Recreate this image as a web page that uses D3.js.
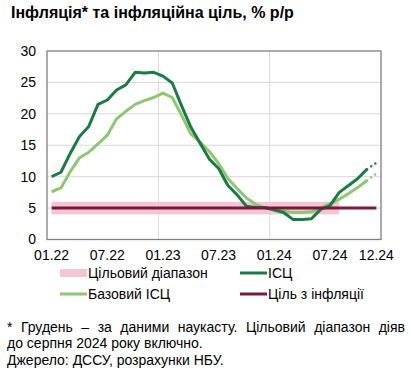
<!DOCTYPE html>
<html><head><meta charset="utf-8">
<script src="https://cdn.jsdelivr.net/npm/d3@7"></script>
<style>
body{margin:0;background:#fff;}
svg{display:block;font-family:"Liberation Sans",Arial,sans-serif;}
</style></head>
<body>
<svg id="c" width="411" height="372"></svg>
<script>
const months = ["01.22","02.22","03.22","04.22","05.22","06.22","07.22","08.22","09.22","10.22","11.22","12.22",
"01.23","02.23","03.23","04.23","05.23","06.23","07.23","08.23","09.23","10.23","11.23","12.23",
"01.24","02.24","03.24","04.24","05.24","06.24","07.24","08.24","09.24","10.24","11.24","12.24"];
const tickLabels = ["01.22","07.22","01.23","07.23","01.24","07.24","12.24"];
const cpi = [10.0,10.7,13.7,16.4,18.0,21.5,22.2,23.8,24.6,26.6,26.5,26.6,
26.0,24.9,21.3,17.9,15.3,12.8,11.3,8.6,7.1,5.3,5.1,5.1,
4.7,4.3,3.2,3.2,3.3,4.8,5.4,7.5,8.6,9.7,11.2,12.2];
const core = [7.6,8.2,10.8,13.0,13.9,15.2,16.6,19.2,20.4,21.5,22.1,22.6,
23.3,22.6,19.8,16.8,15.5,14.0,12.1,9.7,8.1,6.6,5.6,5.0,
4.8,4.5,4.3,4.3,4.4,5.0,5.7,6.4,7.3,8.3,9.4,10.5];
const targetValue = 5;
const bandLow = 4, bandHigh = 6;
const bandEnd = "08.24";
const yTicks = [0,5,10,15,20,25,30];
const yearStarts = ["01.23","01.24"];
const title = "Інфляція* та інфляційна ціль, % р/р";
const legendItems = [
  {label:"Цільовий діапазон", type:"band", color:"#f2c6d2"},
  {label:"ІСЦ", type:"line", color:"#1b7b46"},
  {label:"Базовий ІСЦ", type:"line", color:"#8fc672"},
  {label:"Ціль з інфляції", type:"line", color:"#7a1840"}
];
const notes = ["* Грудень – за даними наукасту. Цільовий діапазон діяв",
"до серпня 2024 року включно.",
"Джерело: ДССУ, розрахунки НБУ."];

const svg = d3.select("#c");
const L=47, R=381, T=51, B=239.5;
const x = d3.scaleBand().domain(months).range([L,R]);
const xc = m => x(m)+x.bandwidth()/2;
const y = d3.scaleLinear().domain([0,30]).range([B,T]);

svg.append("text").attr("x",11).attr("y",18).attr("font-size",16).attr("font-weight","bold")
  .attr("fill","#000").text(title);

// gridlines
svg.append("g").selectAll("line").data(yTicks.filter(v=>v>0&&v<30)).join("line")
  .attr("x1",L).attr("x2",R).attr("y1",d=>y(d)).attr("y2",d=>y(d))
  .attr("stroke","#d9d9d9").attr("stroke-width",1);
svg.append("g").selectAll("line").data(yearStarts).join("line")
  .attr("x1",d=>x(d)).attr("x2",d=>x(d)).attr("y1",T).attr("y2",B)
  .attr("stroke","#d9d9d9").attr("stroke-width",1);

// target band
const bi = months.indexOf(bandEnd);
svg.append("rect").attr("x",xc(months[0])).attr("width",xc(bandEnd)-xc(months[0]))
  .attr("y",y(bandHigh)).attr("height",y(bandLow)-y(bandHigh)).attr("fill","#f2c6d2");

// lines
const line = d3.line().x((d,i)=>xc(months[i])).y(d=>y(d));
function drawSeries(vals,color){
  const n = vals.length;
  const solid = vals.map((v,i)=> i<n-1 ? v : null);
  svg.append("path").attr("d",d3.line().defined(d=>d!=null).x((d,i)=>xc(months[i])).y(d=>y(d))(solid))
    .attr("fill","none").attr("stroke",color).attr("stroke-width",3).attr("stroke-linejoin","round");
  const seg = [[months[n-2],vals[n-2]],[months[n-1],vals[n-1]]];
  svg.append("path").attr("d",d3.line().x(d=>xc(d[0])).y(d=>y(d[1]))(seg))
    .attr("fill","none").attr("stroke",color).attr("stroke-width",2.5)
    .attr("stroke-linecap","round").attr("stroke-dasharray","0,5");
}
drawSeries(core,"#8fc672");
drawSeries(cpi,"#1b7b46");

// target line
svg.append("line").attr("x1",xc(months[0])).attr("x2",xc(months[months.length-1]))
  .attr("y1",y(targetValue)).attr("y2",y(targetValue)).attr("stroke","#7a1840").attr("stroke-width",3);

// frame
svg.append("rect").attr("x",L).attr("y",T).attr("width",R-L).attr("height",B-T)
  .attr("fill","none").attr("stroke","#7f7f7f").attr("stroke-width",1.3);

// axes
const yAxis = d3.axisLeft(y).tickValues(yTicks).tickSize(0).tickPadding(11);
const gy = svg.append("g").attr("transform",`translate(${L},0)`).call(yAxis);
gy.select(".domain").remove();
gy.selectAll("text").attr("font-size",14).attr("font-family","Liberation Sans, Arial").attr("fill","#000");

const xAxis = d3.axisBottom(x).tickValues(tickLabels).tickSize(0).tickPadding(11);
const gx = svg.append("g").attr("transform",`translate(0,${B})`).call(xAxis);
gx.select(".domain").remove();
gx.selectAll("text").attr("font-size",14).attr("font-family","Liberation Sans, Arial").attr("fill","#000");

// legend
const legPos = [[60,273],[240,273],[60,294],[240,294]];
legendItems.forEach((it,i)=>{
  const [lx,ly] = legPos[i];
  if(it.type==="band"){
    svg.append("rect").attr("x",lx).attr("y",ly-4).attr("width",27).attr("height",8).attr("fill",it.color);
  } else {
    svg.append("line").attr("x1",lx).attr("x2",lx+27).attr("y1",ly).attr("y2",ly)
      .attr("stroke",it.color).attr("stroke-width",3);
  }
  svg.append("text").attr("x",lx+28).attr("y",ly+5).attr("font-size",14).attr("fill","#000").text(it.label);
});

// notes (first line justified)
const noteY = [332,348,365];
const words = notes[0].split(" ");
const tmp = words.map(w=>svg.append("text").attr("font-size",14).attr("y",noteY[0]).attr("fill","#000").text(w));
const widths = tmp.map(t=>t.node().getComputedTextLength());
const total = d3.sum(widths);
const gap = (405-7-total)/(words.length-1);
let cx = 7;
tmp.forEach((t,i)=>{ t.attr("x",cx); cx += widths[i]+gap; });
notes.slice(1).forEach((n,i)=>{
  svg.append("text").attr("x",7).attr("y",noteY[i+1]).attr("font-size",14).attr("fill","#000").text(n);
});
</script>
</body></html>
